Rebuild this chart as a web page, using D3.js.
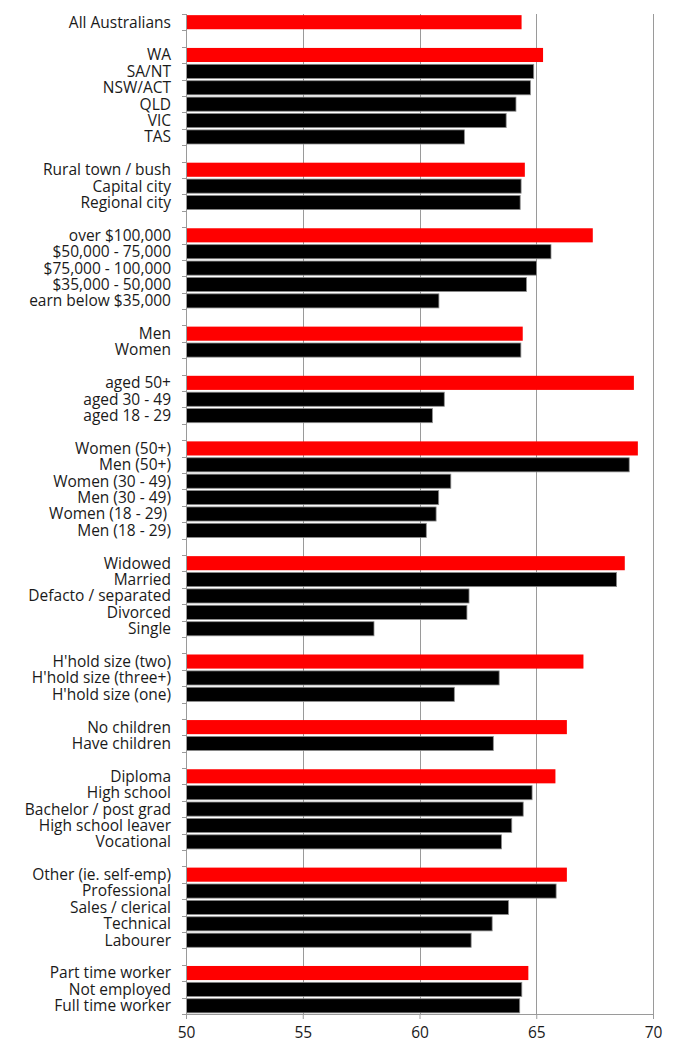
<!DOCTYPE html>
<html>
<head>
<meta charset="utf-8">
<script src="https://cdn.jsdelivr.net/npm/d3@7"></script>
<style>
  html, body { margin: 0; padding: 0; background: #fff; }
  svg text { font-family: "Open Sans", "Noto Sans", sans-serif; fill: #1a1a1a; }
</style>
</head>
<body>
<div id="chart"></div>
<script>
// Row labels, top to bottom; "" marks a blank spacer row between groups
const categories = [
    "All Australians", "",
    "WA", "SA/NT", "NSW/ACT", "QLD", "VIC", "TAS", "",
    "Rural town / bush", "Capital city", "Regional city", "",
    "over $100,000", "$50,000 - 75,000", "$75,000 - 100,000", "$35,000 - 50,000", "earn below $35,000", "",
    "Men", "Women", "",
    "aged 50+", "aged 30 - 49", "aged 18 - 29", "",
    "Women (50+)", "Men (50+)", "Women (30 - 49)", "Men (30 - 49)", "Women (18 - 29) ", "Men (18 - 29)", "",
    "Widowed", "Married", "Defacto / separated", "Divorced", "Single", "",
    "H'hold size (two)", "H'hold size (three+)", "H'hold size (one)", "",
    "No children", "Have children", "",
    "Diploma", "High school", "Bachelor / post grad", "High school leaver", "Vocational", "",
    "Other (ie. self-emp)", "Professional", "Sales / clerical", "Technical", "Labourer", "",
    "Part time worker", "Not employed", "Full time worker"
];

// Score for each row (null for spacer rows)
const values = [
    64.35, null,
    65.27, 64.87, 64.73, 64.11, 63.69, 61.90, null,
    64.49, 64.33, 64.29, null,
    67.40, 65.61, 64.99, 64.56, 60.81, null,
    64.40, 64.32, null,
    69.16, 61.04, 60.53, null,
    69.33, 68.96, 61.32, 60.80, 60.69, 60.27, null,
    68.77, 68.42, 62.10, 62.01, 58.03, null,
    67.00, 63.39, 61.47, null,
    66.29, 63.14, null,
    65.80, 64.80, 64.42, 63.93, 63.49, null,
    66.29, 65.83, 63.79, 63.09, 62.19, null,
    64.64, 64.36, 64.27
];

const xTicks = [50, 55, 60, 65, 70];

const rows = categories.map((label, i) => ({
    id: i,
    label: label,
    value: values[i],
    // the first row of each group is drawn in red
    top: label !== "" && (i === 0 || categories[i - 1] === "")
}));

const W = 673, H = 1044;
const margin = { top: 14, right: 20, bottom: 30, left: 186 };
const width = W - margin.left - margin.right;
const height = H - margin.top - margin.bottom;

const svg = d3.select("#chart").append("svg")
    .attr("width", W)
    .attr("height", H)
  .append("g")
    .attr("transform", `translate(${margin.left},${margin.top})`);

const x = d3.scaleLinear().domain([50, 70]).range([0, width]);
const y = d3.scaleBand().domain(rows.map(d => d.id)).range([0, height]).paddingInner(0.14).paddingOuter(0.07);
const step = y.step();

// vertical grid lines
svg.append("g")
    .selectAll("line")
    .data(xTicks.slice(1))
    .enter().append("line")
    .attr("x1", d => Math.round(x(d)) + 0.5)
    .attr("x2", d => Math.round(x(d)) + 0.5)
    .attr("y1", 0)
    .attr("y2", height)
    .attr("stroke", "#9a9a9a")
    .attr("stroke-width", 1);

// bars
svg.append("g")
    .selectAll("rect")
    .data(rows.filter(d => d.value != null))
    .enter().append("rect")
    .attr("x", x(50) + 0.5)
    .attr("y", d => y(d.id))
    .attr("width", d => x(d.value) - x(50))
    .attr("height", y.bandwidth())
    .attr("fill", d => d.top ? "#ff0000" : "#000")
    .attr("stroke", d => d.top ? "none" : "#8c8c8c")
    .attr("stroke-width", 0.8);

// left axis line and ticks at row boundaries
const yAxis = svg.append("g");
yAxis.append("line")
    .attr("x1", 0.5).attr("x2", 0.5)
    .attr("y1", 0).attr("y2", height)
    .attr("stroke", "#9a9a9a");
yAxis.selectAll(".ytick")
    .data(d3.range(rows.length + 1))
    .enter().append("line")
    .attr("x1", -4).attr("x2", 0.5)
    .attr("y1", i => Math.round(i * step) + 0.5)
    .attr("y2", i => Math.round(i * step) + 0.5)
    .attr("stroke", "#9a9a9a");

// row labels
svg.append("g")
    .selectAll("text")
    .data(rows.filter(d => d.label !== ""))
    .enter().append("text")
    .attr("x", -15)
    .attr("y", d => y(d.id) + y.bandwidth() / 2)
    .attr("dy", "0.35em")
    .attr("text-anchor", "end")
    .style("white-space", "pre")
    .style("font-size", "15.5px")
    .text(d => d.label);

// bottom axis
const xAxis = svg.append("g")
    .attr("transform", `translate(0,${height})`)
    .call(d3.axisBottom(x).tickValues(xTicks).tickSize(5).tickPadding(8).tickFormat(d3.format("d")));
xAxis.select(".domain").attr("stroke", "#9a9a9a");
xAxis.selectAll(".tick line").attr("stroke", "#9a9a9a");
xAxis.selectAll(".tick text")
    .style("font-size", "15.5px")
    .attr("fill", "#1a1a1a");
</script>
</body>
</html>
